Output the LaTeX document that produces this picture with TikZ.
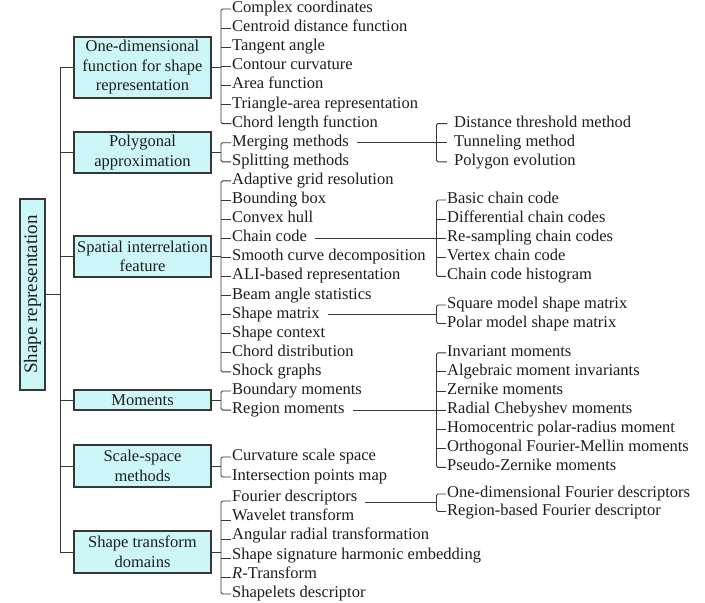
\documentclass[tikz,border=0pt]{standalone}
\usepackage{fontspec}
\setmainfont{Liberation Serif}
\usetikzlibrary{calc}
\definecolor{boxfill}{RGB}{204,246,247}
\definecolor{linecol}{RGB}{55,55,55}
\definecolor{inkcol}{RGB}{30,30,30}
\tikzset{
  catbox/.style={draw=linecol, line width=1.1pt, fill=boxfill, text=inkcol,
    minimum width=137pt, inner xsep=0pt, inner ysep=0pt, align=center,
    font=\fontsize{16.5}{19.5}\selectfont},
  rootbox/.style={catbox, rotate=90, minimum width=191pt, minimum height=25pt,
    font=\fontsize{19}{22}\selectfont},
  leaf/.style={anchor=west, inner xsep=1pt, inner ysep=0pt, text height=11pt,
    text depth=4pt, text=inkcol, font=\fontsize{16.5}{19.5}\selectfont},
  wire/.style={draw=linecol, line width=0.9pt},
  brace/.style={wire, rounded corners=1.5pt},
  lead/.style={wire, shorten <=7pt},
}
\begin{document}
\begin{tikzpicture}[x=1pt,y=-1pt]
\useasboundingbox (0,0) rectangle (705,603);
\fill[white] (0,0) rectangle (705,603);

% root and category boxes
\node[rootbox] (root) at (32.5,294.5) {Shape representation};
\node[catbox, minimum height=61pt] (c1) at (142.5,67.5) {One-dimensional\\function for shape\\representation};
\node[catbox, minimum height=41pt] (c2) at (142.5,152.5) {Polygonal\\approximation};
\node[catbox, minimum height=41pt] (c3) at (142.5,256.5) {Spatial interrelation\\feature};
\node[catbox, minimum height=20pt] (c4) at (142.5,400) {Moments};
\node[catbox, minimum height=42pt] (c5) at (142.5,466) {Scale-space\\methods};
\node[catbox, minimum height=42pt] (c6) at (142.5,552) {Shape transform\\domains};

% trunk joining the root to the categories
\coordinate (trunk) at (60,0);
\draw[wire] (root.south) -- (root.south -| trunk);
\draw[wire] (c1.west -| trunk) -- (c6.west -| trunk);
\foreach \c in {c1,c2,c3,c4,c5,c6}
  \draw[wire] (\c.west -| trunk) -- (\c.west);

% first-level leaves
\foreach \t [count=\i, evaluate=\i as \yy using 9+19.1*(\i-1)] in
  {Complex coordinates, Centroid distance function, Tangent angle,
   Contour curvature, Area function, Triangle-area representation,
   Chord length function}
  \node[leaf] (a\i) at (231,\yy) {\t};
\foreach \t [count=\i, evaluate=\i as \yy using 142.7+19.1*(\i-1)] in
  {Merging methods, Splitting methods}
  \node[leaf] (b\i) at (231,\yy) {\t};
\foreach \t [count=\i, evaluate=\i as \yy using 180.9+19.1*(\i-1)] in
  {Adaptive grid resolution, Bounding box, Convex hull, Chain code,
   Smooth curve decomposition, ALI-based representation,
   Beam angle statistics, Shape matrix, Shape context,
   Chord distribution, Shock graphs}
  \node[leaf] (s\i) at (231,\yy) {\t};
\foreach \t [count=\i, evaluate=\i as \yy using 391+19.1*(\i-1)] in
  {Boundary moments, Region moments}
  \node[leaf] (m\i) at (231,\yy) {\t};
\foreach \t [count=\i, evaluate=\i as \yy using 457+20*(\i-1)] in
  {Curvature scale space, Intersection points map}
  \node[leaf] (k\i) at (231,\yy) {\t};
\foreach \t [count=\i, evaluate=\i as \yy using 498+19.2*(\i-1)] in
  {Fourier descriptors, Wavelet transform, Angular radial transformation,
   Shape signature harmonic embedding, {\itshape R}-Transform,
   Shapelets descriptor}
  \node[leaf] (f\i) at (231,\yy) {\t};

% brackets of the first level
\coordinate (bx) at (221,0);
\draw[wire] (c1.east) -- (c1.east -| bx);
\draw[brace] (a1.west) -- (a1.west -| bx) -- (a7.west -| bx) -- (a7.west);
\foreach \i in {2,...,6} \draw[wire] (a\i.west -| bx) -- (a\i.west);

\draw[wire] (c2.east) -- (c2.east -| bx);
\draw[brace] (b1.west) -- (b1.west -| bx) -- (b2.west -| bx) -- (b2.west);

\draw[wire] (c3.east) -- (c3.east -| bx);
\draw[brace] (s1.west) -- (s1.west -| bx) -- (s11.west -| bx) -- (s11.west);
\foreach \i in {2,...,10} \draw[wire] (s\i.west -| bx) -- (s\i.west);

\draw[wire] (c4.east) -- (c4.east -| bx);
\draw[brace] (m1.west) -- (m1.west -| bx) -- (m2.west -| bx) -- (m2.west);

\draw[wire] (c5.east) -- (c5.east -| bx);
\draw[brace] (k1.west) -- (k1.west -| bx) -- (k2.west -| bx) -- (k2.west);

\draw[wire] (c6.east) -- (c6.east -| bx);
\draw[brace] ([yshift=-3pt]f1.west) -- ([yshift=-3pt]f1.west -| bx)
  -- (f6.west -| bx) -- (f6.west);
\foreach \i in {2,...,5} \draw[wire] ([yshift=-3pt]f\i.west -| bx) -- ([yshift=-3pt]f\i.west);

% second-level leaves
\foreach \t [count=\i, evaluate=\i as \yy using 123.6+19.1*(\i-1)] in
  {Distance threshold method, Tunneling method, Polygon evolution}
  \node[leaf] (d\i) at (453,\yy) {\t};
\foreach \t [count=\i, evaluate=\i as \yy using 200+19.1*(\i-1)] in
  {Basic chain code, Differential chain codes, Re-sampling chain codes,
   Vertex chain code, Chain code histogram}
  \node[leaf] (h\i) at (446,\yy) {\t};
\foreach \t [count=\i, evaluate=\i as \yy using 305+18.5*(\i-1)] in
  {Square model shape matrix, Polar model shape matrix}
  \node[leaf] (q\i) at (446,\yy) {\t};
\foreach \t [count=\i, evaluate=\i as \yy using 352.8+19.1*(\i-1)] in
  {Invariant moments, Algebraic moment invariants, Zernike moments,
   Radial Chebyshev moments, Homocentric polar-radius moment,
   Orthogonal Fourier-Mellin moments, Pseudo-Zernike moments}
  \node[leaf] (r\i) at (446,\yy) {\t};
\foreach \t [count=\i, evaluate=\i as \yy using 494+17.5*(\i-1)] in
  {One-dimensional Fourier descriptors, Region-based Fourier descriptor}
  \node[leaf] (o\i) at (446,\yy) {\t};

% brackets of the second level
\coordinate (sx) at (436.5,0);
\draw[lead] (b1.east) -- (b1.east -| sx);
\draw[brace, shorten <=6pt, shorten >=6pt] (d1.west) -- (d1.west -| sx)
  -- (d3.west -| sx) -- (d3.west);
\draw[wire, shorten >=6pt] (d2.west -| sx) -- (d2.west);

\draw[lead] (s4.east) -- (s4.east -| sx);
\draw[brace] (h1.west) -- (h1.west -| sx) -- (h5.west -| sx) -- (h5.west);
\foreach \i in {2,...,4} \draw[wire] (h\i.west -| sx) -- (h\i.west);

\draw[lead] (s8.east) -- (s8.east -| sx);
\draw[brace] (q1.west) -- (q1.west -| sx) -- (q2.west -| sx) -- (q2.west);

\draw[lead] (m2.east) -- (m2.east -| sx);
\draw[brace] (r1.west) -- (r1.west -| sx) -- (r7.west -| sx) -- (r7.west);
\foreach \i in {2,...,6} \draw[wire] (r\i.west -| sx) -- (r\i.west);

\draw[lead] ([yshift=-4pt]f1.east) -- ([yshift=-4pt]f1.east -| sx);
\draw[brace] (o1.west) -- (o1.west -| sx) -- (o2.west -| sx) -- (o2.west);
\end{tikzpicture}
\end{document}
